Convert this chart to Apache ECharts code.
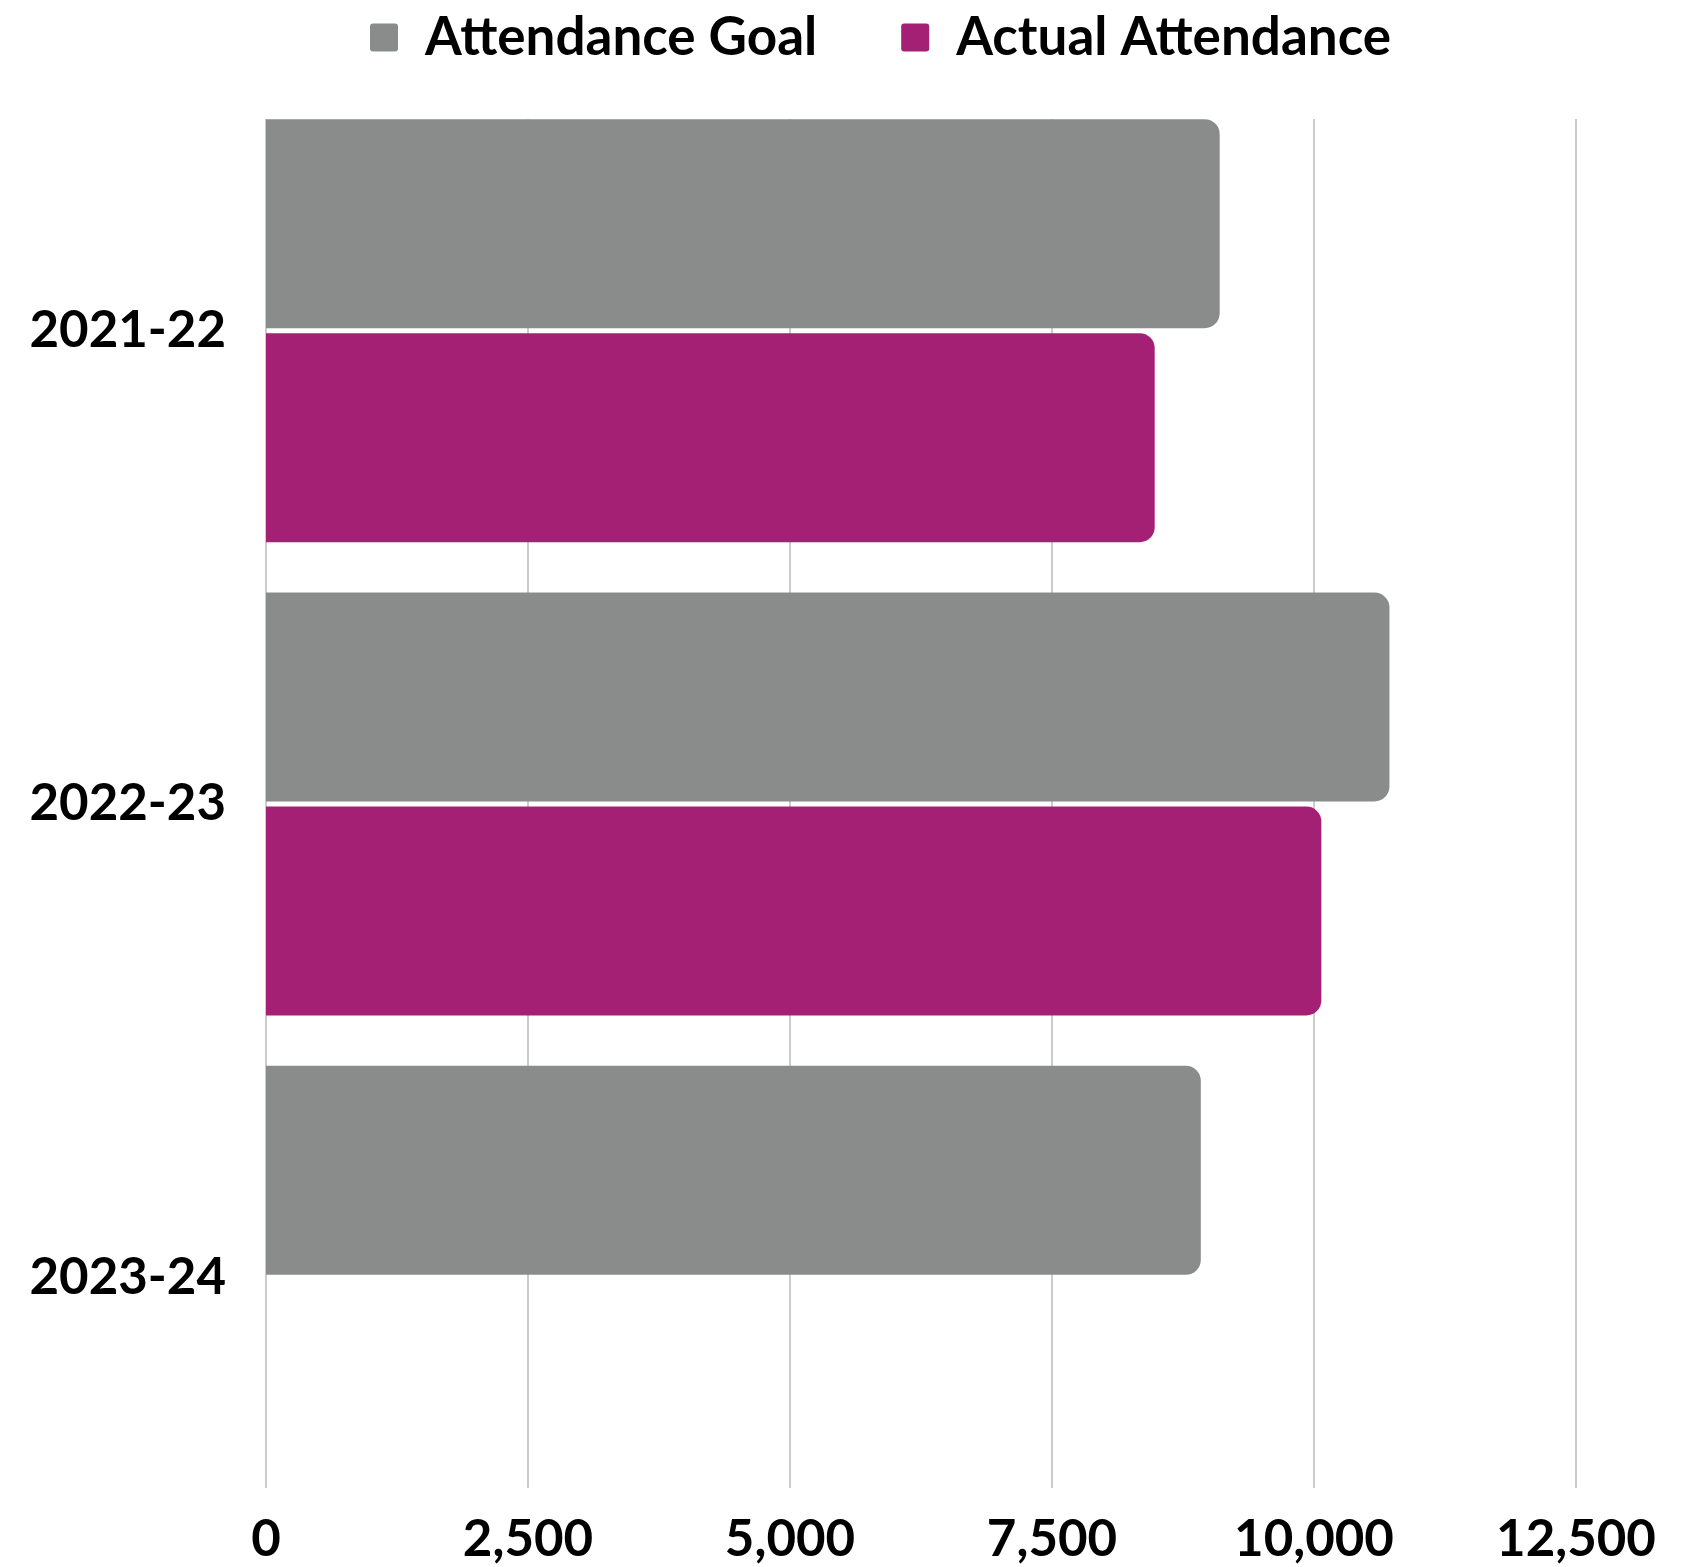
<!DOCTYPE html>
<html>
<head>
<meta charset="utf-8">
<script src="https://cdn.jsdelivr.net/npm/echarts@6/dist/echarts.min.js"></script>
<style>
html,body{margin:0;padding:0;background:#fff;}
#chart{width:1702px;height:1567px;}
</style>
</head>
<body>
<div id="chart"></div>
<script>
const categories = ['2021-22', '2022-23', '2023-24'];
const goalValues = [9100, 10720, 8920];
const actualValues = [8480, 10070, null];
const seriesNames = ['Attendance Goal', 'Actual Attendance'];
const axisMin = 0, axisMax = 12500, axisInterval = 2500;

const FONT = 'Lato';
const chart = echarts.init(document.getElementById('chart'), null, {renderer: 'canvas'});
chart.setOption({
  backgroundColor: '#ffffff',
  animation: false,
  legend: {
    data: seriesNames,
    left: 365,
    top: 6,
    icon: 'path://M3,0 L25,0 Q28,0 28,3 L28,25 Q28,28 25,28 L3,28 Q0,28 0,25 L0,3 Q0,0 3,0 Z',
    itemWidth: 28,
    itemHeight: 28,
    itemGap: 84,
    textStyle: {fontFamily: FONT, fontWeight: 'bold', fontSize: 53, color: '#000', padding: [0, 0, 0, 22]}
  },
  grid: [
    {left: 266, right: 126, top: 94, height: 1420},
    {left: 266, right: 126, top: 119, height: 1369}
  ],
  xAxis: [
    {gridIndex: 0, type: 'value', min: axisMin, max: axisMax, interval: axisInterval, show: false},
    {gridIndex: 1, type: 'value', min: axisMin, max: axisMax, interval: axisInterval,
     axisLine: {show: false}, axisTick: {show: false},
     splitLine: {show: true, lineStyle: {color: '#cccccc', width: 2}},
     axisLabel: {fontFamily: FONT, fontWeight: 'bold', fontSize: 51, color: '#000', margin: 26,
       formatter: v => v.toLocaleString('en-US')}}
  ],
  yAxis: [
    {gridIndex: 0, type: 'category', data: categories, inverse: true,
     axisLine: {show: false}, axisTick: {show: false}, splitLine: {show: false},
     axisLabel: {fontFamily: FONT, fontWeight: 'bold', fontSize: 51, color: '#000', margin: 40}},
    {gridIndex: 1, type: 'value', show: false}
  ],
  series: [
    {name: seriesNames[0], type: 'bar', xAxisIndex: 0, yAxisIndex: 0, data: goalValues,
     barWidth: 209, barGap: '2.4%',
     itemStyle: {color: '#8a8c8b', borderRadius: [0, 15, 15, 0]}},
    {name: seriesNames[1], type: 'bar', xAxisIndex: 0, yAxisIndex: 0, data: actualValues,
     barWidth: 209, barGap: '2.4%',
     itemStyle: {color: '#a42074', borderRadius: [0, 15, 15, 0]}}
  ]
});
</script>
</body>
</html>
